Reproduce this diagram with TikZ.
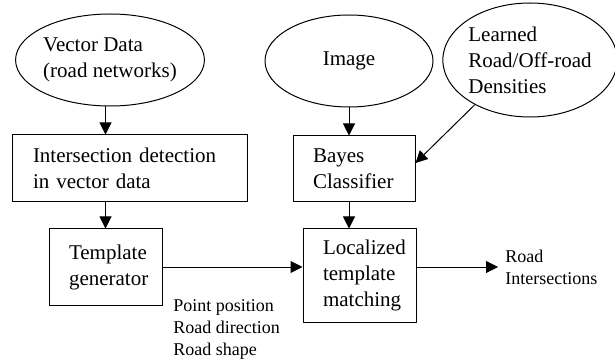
\documentclass[tikz,border=0pt]{standalone}
\usepackage{fontspec}
\setmainfont{Liberation Serif}
\usetikzlibrary{shapes.geometric,arrows.meta}

\begin{document}
\begin{tikzpicture}[x=0.5pt,y=-0.5pt]
    \tikzstyle{every node}+=[font=\fontsize{10.5}{13}\selectfont]
    \tikzstyle{box}=[draw, line width=0.5pt, align=left, inner xsep=0pt]
    \tikzstyle{blob}=[draw, ellipse, line width=0.5pt, inner sep=0pt, align=left]
    \tikzstyle{flow}=[black, line width=0.5pt, -{Triangle[length=6pt,width=6pt]}]
    \tikzstyle{note}=[font=\fontsize{9}{11}\selectfont, align=left]
    \useasboundingbox (0,0) rectangle (615,363);
    % inputs
    \node [blob, minimum width=89pt, minimum height=46pt] (vector) at (110,60) {Vector Data\\(road networks)};
    \node [blob, minimum width=84pt, minimum height=46pt] (image) at (349,61) {Image};
    \node [blob, minimum width=83pt, minimum height=57pt] (learned) at (530,60) {Learned\\Road/Off-road\\Densities};
    % processing steps
    \node [box, minimum width=117.5pt, minimum height=33.5pt, text width=96.5pt] (inter) at (129.5,168.5) {Intersection detection\\in vector data};
    \node [box, minimum width=61pt, minimum height=33pt, text width=41pt] (bayes) at (354,169) {Bayes\\Classifier};
    \node [box, minimum width=56.5pt, minimum height=38pt, text width=36.5pt] (templ) at (105.5,267) {Template\\generator};
    \node [box, minimum width=56.5pt, minimum height=46.5pt, text width=36.5pt] (local) at (359.5,275.5) {Localized\\template\\matching};
    \node [note, anchor=west, inner xsep=3.5pt, inner ysep=0pt] (result) at (498,267) {Road\\Intersections};
    \node [note, anchor=west, inner sep=0pt] (params) at (173,329.5) {Point position\\Road direction\\Road shape};
    % connectors
    \draw [flow] (vector.south -| templ) -- (inter.north -| templ);
    \draw [flow] (inter.south -| templ) -- (templ.north);
    \draw [flow] (image.south) -- (image.south |- bayes.north);
    \draw [flow] (learned.219) -- ([yshift=3pt]bayes.east);
    \draw [flow] (bayes.south -| image) -- (local.north -| image);
    \draw [flow] (templ.east) -- (templ.east -| local.west);
    \draw [flow] (templ.east -| local.east) -- (result.west);
\end{tikzpicture}
\end{document}
